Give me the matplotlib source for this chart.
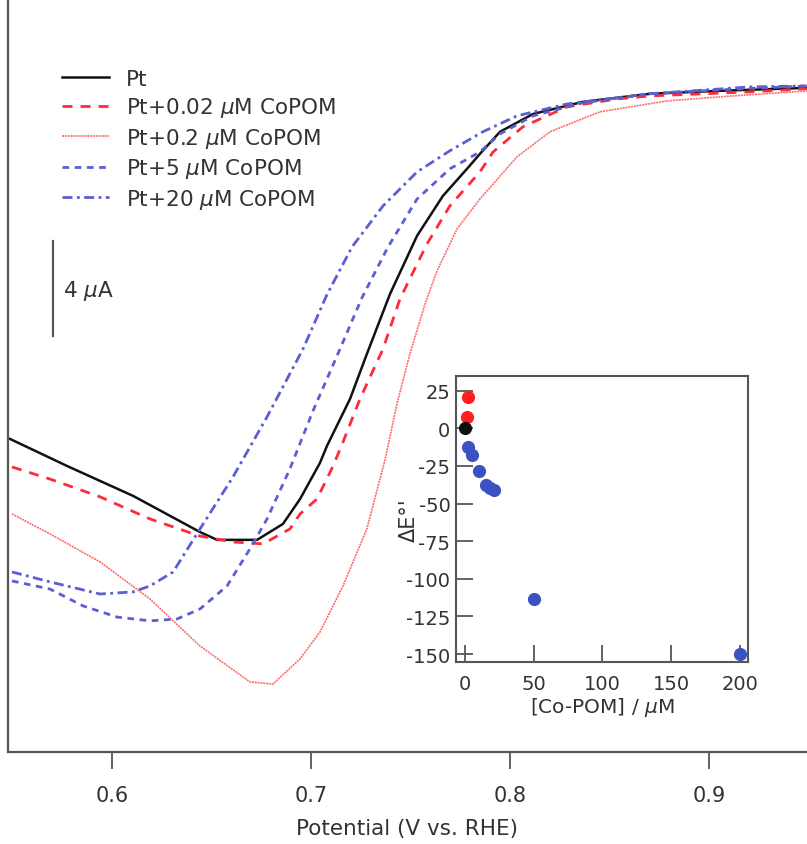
import matplotlib

matplotlib.use("Agg")
import matplotlib.pyplot as plt

# potential (V vs. RHE) and current (uA, arbitrary offset)
pt_v = [0.5487, 0.5774, 0.6106, 0.6442, 0.6528, 0.6729, 0.6859, 0.6945, 0.7045, 0.7080,
        0.7196, 0.7281, 0.7397, 0.7533, 0.7663, 0.7784, 0.7849, 0.7950, 0.8116, 0.8367,
        0.8704, 0.9040, 0.9492]
pt_i = [13.18, 12.04, 10.78, 9.26, 8.93, 8.93, 9.60, 10.65, 12.17, 12.88,
        14.86, 16.76, 19.28, 21.73, 23.41, 24.55, 25.18, 26.11, 26.86, 27.37,
        27.71, 27.83, 27.96]

c002_v = [0.5497, 0.5688, 0.5940, 0.6191, 0.6442, 0.6608, 0.6759, 0.6894, 0.6945, 0.7030,
          0.7111, 0.7161, 0.7246, 0.7362, 0.7447, 0.7583, 0.7698, 0.7849, 0.7915, 0.8065,
          0.8286, 0.8538, 0.8704, 0.9206, 0.9492]
c002_i = [12.00, 11.49, 10.74, 9.81, 9.09, 8.84, 8.76, 9.39, 10.02, 10.65,
          12.04, 13.05, 14.86, 16.97, 19.07, 21.39, 22.99, 24.42, 25.26, 26.32,
          27.16, 27.49, 27.62, 27.79, 27.92]

c02_v = [0.5497, 0.5688, 0.5940, 0.6191, 0.6442, 0.6693, 0.6809, 0.6945, 0.7045, 0.7161,
         0.7281, 0.7372, 0.7432, 0.7497, 0.7573, 0.7633, 0.7734, 0.7849, 0.8035, 0.8201,
         0.8452, 0.8789, 0.9121, 0.9492]
c02_i = [10.02, 9.18, 8.00, 6.44, 4.46, 2.95, 2.86, 3.92, 5.05, 6.99,
         9.40, 12.30, 14.65, 16.76, 18.86, 20.25, 22.02, 23.28, 25.05, 26.11,
         26.95, 27.41, 27.62, 27.83]

c5_v = [0.5497, 0.5688, 0.5854, 0.6025, 0.6191, 0.6327, 0.6442, 0.6578, 0.6693, 0.6779,
        0.6894, 0.7010, 0.7146, 0.7256, 0.7387, 0.7533, 0.7698, 0.7849, 0.7950, 0.8116,
        0.8367, 0.8704, 0.9040, 0.9492]
c5_i = [7.20, 6.86, 6.15, 5.68, 5.52, 5.60, 6.02, 6.99, 8.55, 9.81,
        11.92, 14.36, 16.97, 19.12, 21.26, 23.28, 24.55, 25.26, 26.02, 26.78,
        27.33, 27.71, 27.87, 28.04]

c20_v = [0.5497, 0.5688, 0.5940, 0.6106, 0.6191, 0.6307, 0.6442, 0.6608, 0.6779, 0.6960,
         0.7080, 0.7206, 0.7362, 0.7533, 0.7698, 0.7864, 0.8035, 0.8286, 0.8704, 0.9206,
         0.9492]
c20_i = [7.58, 7.16, 6.65, 6.74, 6.99, 7.58, 9.39, 11.58, 14.11, 16.97,
         19.25, 21.26, 22.99, 24.42, 25.31, 26.11, 26.78, 27.28, 27.71, 28.00,
         28.04]

labels = ["Pt", "Pt+0.02 $\\mu$M CoPOM", "Pt+0.2 $\\mu$M CoPOM",
          "Pt+5 $\\mu$M CoPOM", "Pt+20 $\\mu$M CoPOM"]

# inset: shift of E°' vs. Co-POM concentration
red_conc = [2.0, 1.5]
red_shift = [20.9, 7.2]
black_conc = [0.0]
black_shift = [0.0]
blue_conc = [2.2, 5.0, 10.0, 15.0, 18.5, 21.0, 50.0, 200.0]
blue_shift = [-12.4, -17.6, -28.7, -37.6, -39.8, -41.3, -113.5, -150.3]

TXT = "#333333"
plt.rcParams["font.family"] = ["DejaVu Sans"]
plt.rcParams["axes.unicode_minus"] = False

fig = plt.figure(figsize=(8.07, 8.45), dpi=100)
ax = fig.add_axes([0.0099, 0.1089, 0.9901, 0.8911])

ax.plot(pt_v, pt_i, color="#111111", lw=1.8, label=labels[0])
ax.plot(c002_v, c002_i, color="#ff2a3a", lw=2.0, dashes=(3.6, 2.9), label=labels[1])
ax.plot(c02_v, c02_i, color="#ff6a6a", lw=1.2, linestyle=(0, (1.2, 0.5)), label=labels[2])
ax.plot(c5_v, c5_i, color="#5b5fd1", lw=2.0, dashes=(2.4, 2.0), label=labels[3])
ax.plot(c20_v, c20_i, color="#5b5fd1", lw=2.0, dashes=(3.6, 1.6, 1.0, 1.6), label=labels[4])

ax.set_xlim(0.5477, 0.9493)
ax.set_ylim(0, 31.7)
ax.set_xticks([0.6, 0.7, 0.8, 0.9])
ax.set_yticks([])
ax.tick_params(axis="x", direction="out", length=12, width=1.3, color="#555555",
               labelsize=15, labelcolor=TXT, pad=12)
ax.set_xlabel("Potential (V vs. RHE)", fontsize=15.5, color=TXT, labelpad=9)
for side in ["top", "right"]:
    ax.spines[side].set_visible(False)
for side in ["left", "bottom"]:
    ax.spines[side].set_color("#555555")
    ax.spines[side].set_linewidth(1.6)

leg = ax.legend(loc="upper left", bbox_to_anchor=(0.0676, 0.907), frameon=False,
                fontsize=15.5, handlelength=2.2, handletextpad=0.78, labelspacing=0.3,
                borderaxespad=0, borderpad=0)
for t in leg.get_texts():
    t.set_color(TXT)

# 4 uA scale bar
ax.plot([0.5704, 0.5704], [17.52, 21.52], color="#555555", lw=1.6)
ax.text(0.5754, 19.45, "4 $\\mu$A", fontsize=15.5, color=TXT, ha="left", va="center")

# inset
ins = fig.add_axes([0.565, 0.2154, 0.3618, 0.3385])
ins.scatter(red_conc, red_shift, s=90, color="#ff1f1f", zorder=3, linewidths=0)
ins.scatter(black_conc, black_shift, s=90, color="#111111", zorder=3, linewidths=0)
ins.scatter(blue_conc, blue_shift, s=90, color="#3a52c2", zorder=3, linewidths=0)
ins.set_xlim(-6.5, 205.8)
ins.set_ylim(-155.3, 34.8)
ins.set_xticks([0, 50, 100, 150, 200])
ins.set_yticks([25, 0, -25, -50, -75, -100, -125, -150])
ins.tick_params(direction="in", length=12, width=1.3, color="#555555",
                labelsize=14, labelcolor=TXT, pad=4)
ins.tick_params(axis="x", pad=9)
for sp in ins.spines.values():
    sp.set_color("#555555")
    sp.set_linewidth(1.5)
ins.set_xlabel("[Co-POM] / $\\mu$M", fontsize=14.5, color=TXT, labelpad=1)
ins.text(-0.162, 0.5, "ΔE°'", transform=ins.transAxes, rotation=90, fontsize=15,
         color=TXT, ha="center", va="center")

fig.savefig("out.png", dpi=100)
